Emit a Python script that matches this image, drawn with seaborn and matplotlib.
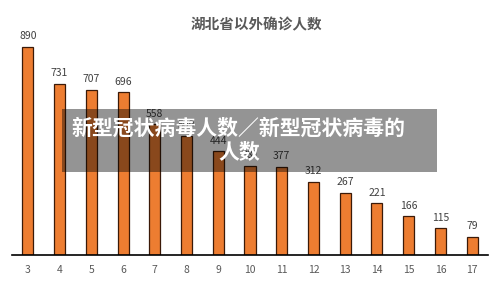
import matplotlib
matplotlib.use("Agg")
import matplotlib.pyplot as plt
import seaborn as sns
import pandas as pd
from matplotlib.patches import Rectangle

# Daily confirmed cases outside Hubei, by day of month
days = ["3", "4", "5", "6", "7", "8", "9", "10", "11", "12", "13", "14", "15", "16", "17"]
cases = [890, 731, 707, 696, 558, 509, 444, 381, 377, 312, 267, 221, 166, 115, 79]

title = "湖北省以外确诊人数"
banner_text = "新型冠状病毒人数／新型冠状病毒的\n人数"

sns.set_theme(style="white")
plt.rcParams["font.family"] = ["Noto Sans CJK SC", "DejaVu Sans"]

df = pd.DataFrame({"day": days, "cases": cases})

fig = plt.figure(figsize=(5.0, 2.81), dpi=100)
ax = fig.add_axes([0.024, 0.0925, 0.952, 0.833])

sns.barplot(data=df, x="day", y="cases", order=days, color="#ED7D31",
            width=0.35, edgecolor="#3b1a08", linewidth=0.9, saturation=1, ax=ax)

ax.bar_label(ax.containers[0], labels=[str(v) for v in cases], padding=4,
             fontsize=7.5, color="#404040")

ax.set_ylim(0, 1000)
ax.set_xlim(-0.5, len(days) - 0.5)
ax.set_xlabel("")
ax.set_ylabel("")
ax.set_yticks([])
for side in ["left", "right", "top"]:
    ax.spines[side].set_visible(False)
ax.spines["bottom"].set_color("#000000")
ax.spines["bottom"].set_linewidth(1.2)
ax.tick_params(axis="x", length=0, pad=7, labelsize=7.5, labelcolor="#595959")

fig.text(0.512, 0.912, title, ha="center", va="center", fontsize=10.5,
         fontweight="bold", color="#595959")

# Semi-transparent caption band across the middle
fig.patches.append(Rectangle((62 / 500, 1 - 172 / 281), 375 / 500, 63 / 281,
                             transform=fig.transFigure, facecolor="#000000",
                             alpha=0.42, edgecolor="none", zorder=5))
fig.text(0.478, 1 - 140 / 281, banner_text, ha="center", va="center",
         fontsize=15, fontweight="heavy", color="white", linespacing=1.1,
         zorder=6)

fig.savefig("out.png", dpi=100)
